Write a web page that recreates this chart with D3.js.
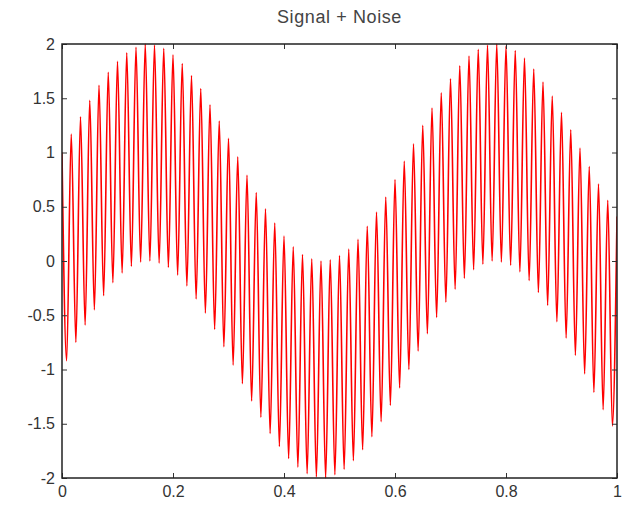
<!DOCTYPE html>
<html><head><meta charset="utf-8">
<script src="https://cdn.jsdelivr.net/npm/d3@7"></script>
<style>
html,body{margin:0;padding:0;background:#fff;}
text{font-family:"Liberation Sans",Arial,sans-serif;}
</style></head>
<body>
<svg id="chart" width="625" height="509"></svg>
<script>
// Extremes (alternating crest / trough) of the noisy signal,
// one every half period of the fast oscillation (t step = 1/120).
const sampleStep = 1 / 120;
const signalNoise = [
  1.00,-0.92,1.17,-0.75,1.33,-0.59,1.48,-0.45,1.62,-0.32,
  1.74,-0.20,1.84,-0.11,1.92,-0.05,1.97,-0.01,2.00,0.00,
  1.99,-0.02,1.96,-0.06,1.90,-0.13,1.82,-0.23,1.71,-0.35,
  1.59,-0.48,1.44,-0.63,1.29,-0.79,1.13,-0.96,0.96,-1.13,
  0.79,-1.29,0.63,-1.44,0.48,-1.59,0.35,-1.71,0.23,-1.82,
  0.13,-1.90,0.06,-1.96,0.02,-1.99,0.00,-2.00,0.01,-1.97,
  0.05,-1.92,0.11,-1.84,0.20,-1.74,0.32,-1.62,0.45,-1.48,
  0.59,-1.33,0.75,-1.17,0.92,-1.00,1.08,-0.83,1.25,-0.67,
  1.41,-0.52,1.55,-0.38,1.68,-0.26,1.80,-0.16,1.89,-0.08,
  1.95,-0.03,1.99,0.00,2.00,-0.01,1.98,-0.04,1.94,-0.10,
  1.87,-0.18,1.77,-0.29,1.65,-0.41,1.52,-0.56,1.37,-0.71,
  1.21,-0.87,1.04,-1.04,0.87,-1.21,0.71,-1.37,0.56,-1.52,
  0.41
];
const xTicks = [0, 0.2, 0.4, 0.6, 0.8, 1];
const xTickLabels = ["0", "0.2", "0.4", "0.6", "0.8", "1"];
const yTicks = [-2, -1.5, -1, -0.5, 0, 0.5, 1, 1.5, 2];
const yTickLabels = ["-2", "-1.5", "-1", "-0.5", "0", "0.5", "1", "1.5", "2"];
const titleText = "Signal + Noise";

const svg = d3.select("#chart");
const L = 62, R = 617, T = 44, B = 478;
const x = d3.scaleLinear().domain([0, 1]).range([L, R]);
const y = d3.scaleLinear().domain([-2, 2]).range([B, T]);

svg.append("defs").append("clipPath").attr("id", "clip")
  .append("rect").attr("x", L).attr("y", T - 1).attr("width", R - L).attr("height", B - T + 2);

const line = d3.line()
  .x((d, i) => x(i * sampleStep))
  .y(d => y(d))
  .curve(d3.curveMonotoneX);

svg.append("path")
  .datum(signalNoise)
  .attr("clip-path", "url(#clip)")
  .attr("fill", "none")
  .attr("stroke", "#ff0000")
  .attr("stroke-width", 1.6)
  .attr("stroke-linejoin", "miter")
  .attr("d", line);

function styleAxis(g) {
  g.select(".domain").remove();
  g.selectAll(".tick line").attr("stroke", "#333").attr("stroke-width", 1);
  g.selectAll(".tick text").attr("fill", "#333").style("font-size", "16px");
}
const xFmt = d => xTickLabels[xTicks.indexOf(d)];
const yFmt = d => yTickLabels[yTicks.indexOf(d)];

svg.append("g").attr("transform", `translate(0,${B})`)
  .call(d3.axisBottom(x).tickValues(xTicks).tickFormat(xFmt).tickSizeInner(-5).tickSizeOuter(0).tickPadding(8))
  .call(styleAxis);
svg.append("g").attr("transform", `translate(0,${T})`)
  .call(d3.axisTop(x).tickValues(xTicks).tickFormat("").tickSizeInner(-5).tickSizeOuter(0))
  .call(styleAxis);
svg.append("g").attr("transform", `translate(${L},0)`)
  .call(d3.axisLeft(y).tickValues(yTicks).tickFormat(yFmt).tickSizeInner(-5).tickSizeOuter(0).tickPadding(7))
  .call(styleAxis);
svg.append("g").attr("transform", `translate(${R},0)`)
  .call(d3.axisRight(y).tickValues(yTicks).tickFormat("").tickSizeInner(-5).tickSizeOuter(0))
  .call(styleAxis);

svg.append("rect")
  .attr("x", L).attr("y", T).attr("width", R - L).attr("height", B - T)
  .attr("fill", "none").attr("stroke", "#222").attr("stroke-width", 1.5);

svg.append("text")
  .attr("x", (L + R) / 2).attr("y", 23)
  .attr("text-anchor", "middle")
  .attr("fill", "#444")
  .style("font-size", "18px")
  .style("letter-spacing", "0.6px")
  .text(titleText);
</script>
</body></html>
